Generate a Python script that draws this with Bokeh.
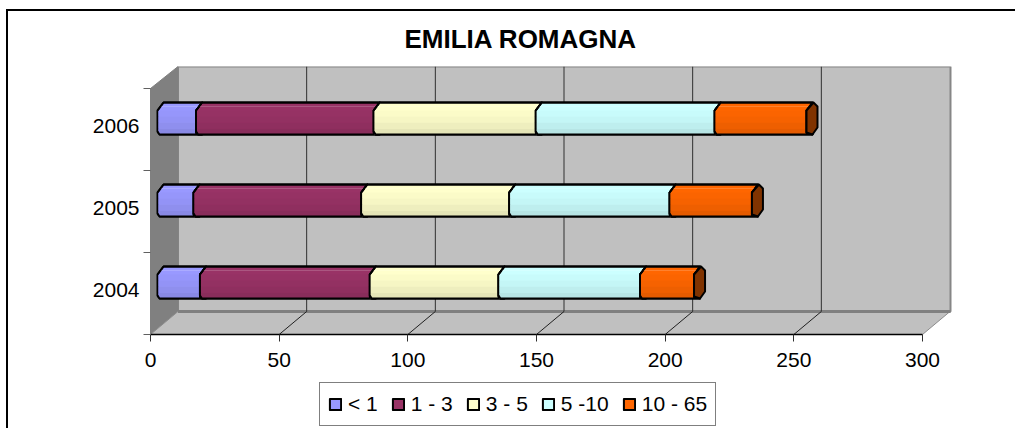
from bokeh.plotting import figure
from bokeh.embed import file_html
from bokeh.resources import INLINE
from bokeh.models import Legend, LegendItem, FixedTicker, Title, InlineStyleSheet

# ---- data ----
years = ["2004", "2005", "2006"]
series_names = ["< 1", "1 - 3", "3 - 5", "5 -10", "10 - 65"]
lt1 = [16.5, 14, 15]
s1_3 = [66, 65.2, 69]
s3_5 = [50, 57.5, 63]
s5_10 = [55, 62.3, 69.5]
s10_65 = [21, 32, 35.7]
series = [lt1, s1_3, s3_5, s5_10, s10_65]
colors = ["#9999FF", "#993366", "#FFFFCC", "#CCFFFF", "#FF6600"]
cap_color = "#803300"
x_ticks = [0, 50, 100, 150, 200, 250, 300]

# ---- scale: px per unit ----
W, H = 1015, 428
PX_X = 772 / 300
PX_Y = 82.0
ORIGIN_X, ORIGIN_Y, WALL_TOP = 150, 334, 66
XMAX = 800 / PX_X
YMAX = (ORIGIN_Y - WALL_TOP) / PX_Y
def dx(px): return px / PX_X
def dy(px): return px / PX_Y

p = figure(width=W, height=H, output_backend="svg", toolbar_location=None,
           x_range=(-ORIGIN_X / PX_X, (W - ORIGIN_X) / PX_X),
           y_range=(-(H - ORIGIN_Y) / PX_Y, YMAX),
           min_border_left=0, min_border_right=0, min_border_top=WALL_TOP, min_border_bottom=0,
           background_fill_color=None, border_fill_color="white",
           outline_line_color=None)
p.grid.visible = False

# 3-D box
DX, DY = dx(27.5), dy(23)
TOP = 3.0
p.patch([DX, XMAX, XMAX, DX], [DY, DY, YMAX, YMAX], fill_color="#C0C0C0", line_color="#868686", line_width=2)
p.patch([0, DX, DX, 0], [0, DY, YMAX, TOP], fill_color="#808080", line_color="#808080", line_width=1)
p.patch([0, 300, 300 + DX, DX], [0, 0, DY, DY], fill_color="#C0C0C0", line_color="#8c8c8c", line_width=1)
p.line([DX, XMAX], [DY, DY], line_color="#808080", line_width=3)
for t in x_ticks[1:-1]:
    p.line([t + DX, t + DX], [DY, YMAX], line_color="#303030", line_width=1)
    p.line([t, t + DX], [0, DY], line_color="#202020", line_width=1)


def shade_color(hexc, f):
    return "#%02X%02X%02X" % tuple(min(255, int(int(hexc[j:j + 2], 16) * f)) for j in (1, 3, 5))


def tint_color(hexc, f):
    return "#%02X%02X%02X" % tuple(int(int(hexc[j:j + 2], 16) * (1 - f) + 255 * f) for j in (1, 3, 5))


# bars
BASE = dx(7)
CH_X, CH_Y = dx(6), dy(8)
HALF = dy(16)
CENTER = [0.5 + dy(11), 1.5 + dy(11), 2.5 + dy(11)]
bands = [(0.0, 0.25, 0.985), (0.25, 0.5, 0.965), (0.5, 0.75, 0.935), (0.75, 1.0, 0.90)]
items = []
cum = [0.0, 0.0, 0.0]
layers = []
for k, vals in enumerate(series):
    xs, ys, band = [], [], []
    for i, v in enumerate(vals):
        x0 = cum[i] + BASE
        x1 = x0 + v
        t, b = CENTER[i] + HALF, CENTER[i] - HALF
        xs.append([x0, x0 + CH_X, x1 + CH_X, x1, x1, x1 + dx(6), x1 + dx(1), x0 + dx(2), x0])
        ys.append([t - CH_Y, t, t, t - CH_Y, b + dy(2), b, b, b, b + dy(3)])
        h = 2 * HALF - CH_Y
        for f0, f1, shade in bands:
            band.append((x0, x1, t - CH_Y - h * f0, t - CH_Y - h * f1, shade))
        cum[i] = x1 - BASE
    layers.append((k, xs, ys, band))

for k, xs, ys, band in layers:
    r = p.patches(xs, ys, fill_color=colors[k], line_color="black", line_width=2, line_join="round")
    items.append(LegendItem(label=series_names[k], renderers=[r]))
    for x0, x1, y0, y1, shade in band:
        p.quad(left=x0 + dx(1), right=x1 - dx(1), top=y0, bottom=y1,
               fill_color=shade_color(colors[k], shade), line_color=None)
    p.multi_line([[x[0] + dx(3), x[3] + dx(2)] for x in xs],
                 [[y[1] - dy(4), y[1] - dy(4)] for y in ys],
                 line_color=tint_color(colors[k], 0.18), line_width=1)
    p.multi_line(xs, ys, line_color="black", line_width=2, line_join="round")

# end caps
for i in range(3):
    x1 = cum[i] + BASE
    t, b = CENTER[i] + HALF, CENTER[i] - HALF
    p.patch([x1, x1 + dx(7), x1 + dx(11), x1 + dx(11), x1 + dx(6), x1],
            [t - CH_Y, t, t - dy(4), b + dy(7), b, b + dy(2)],
            fill_color=cap_color, line_color="black", line_width=2, line_join="round")

# axes
xa = p.xaxis[0]
xa.fixed_location = 0
xa.ticker = FixedTicker(ticks=x_ticks)
xa.bounds = (0, 300)
xa.major_tick_out = 7
xa.major_tick_in = 0
xa.major_tick_line_color = "#303030"
xa.minor_tick_line_color = None
xa.axis_line_color = "black"
xa.axis_line_width = 1.5
xa.major_label_text_font = "Liberation Sans"
xa.major_label_text_font_size = "21px"
xa.major_label_text_color = "black"
xa.major_label_standoff = 11

ya = p.yaxis[0]
ya.fixed_location = 0
mids = [0.5 + dy(3.5), 1.5 + dy(3.5), 2.5 + dy(3.5)]
ya.ticker = FixedTicker(ticks=mids, minor_ticks=[0, 1, 2, 3])
ya.major_label_overrides = {m: y for m, y in zip(mids, years)}
ya.bounds = (0, 3)
ya.major_tick_line_color = None
ya.minor_tick_out = 7
ya.minor_tick_in = 0
ya.minor_tick_line_color = "#606060"
ya.axis_line_color = "#808080"
ya.major_label_text_font = "Liberation Sans"
ya.major_label_text_font_size = "21px"
ya.major_label_text_color = "black"
ya.major_label_standoff = 4

# title
p.title = Title(text="EMILIA ROMAGNA", align="left", offset=404,
                text_font="Liberation Sans", text_font_size="26px", text_font_style="bold",
                text_color="black", standoff=25)

# legend
legend = Legend(items=items, orientation="horizontal", location=(319, 2),
                label_text_font="Liberation Sans", label_text_font_size="21px",
                label_text_color="black", glyph_width=14, glyph_height=14,
                label_standoff=6, spacing=13, padding=8, margin=0,
                label_height=26,
                border_line_color="black", border_line_width=1.5,
                background_fill_color="white", background_fill_alpha=1.0)
p.add_layout(legend, "center")

# outer chart border, running past the window's right and bottom edges
p.stylesheets = [InlineStyleSheet(css=":host::after{content:'';position:absolute;left:6px;top:9px;"
                                      "width:1100px;height:500px;border:2px solid #000;pointer-events:none;}")]

open("out.html", "w").write(file_html(p, INLINE))
